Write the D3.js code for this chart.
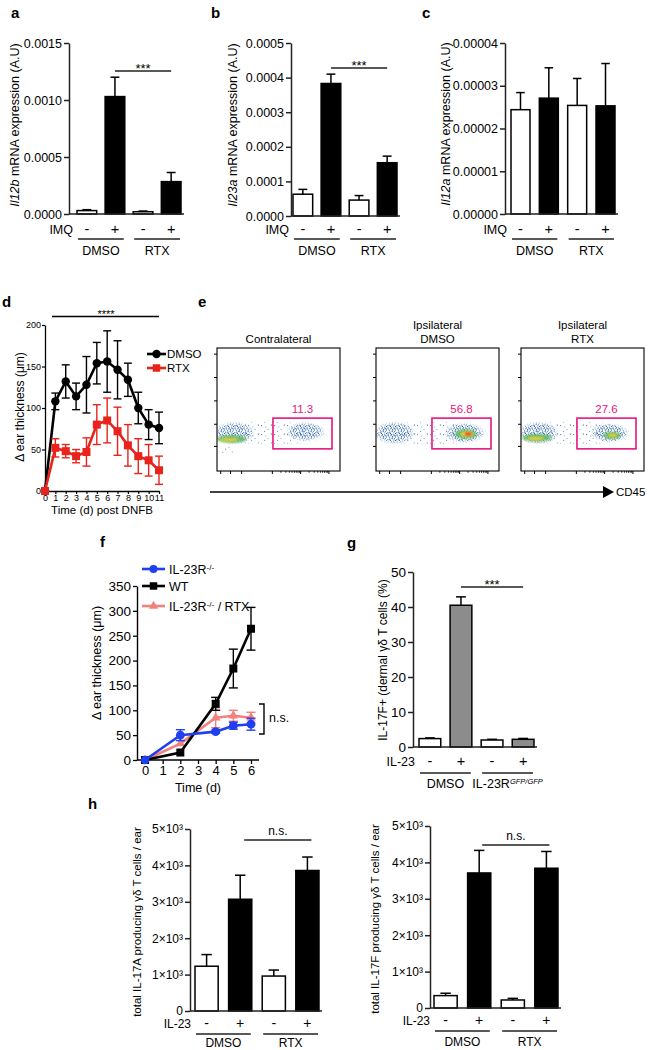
<!DOCTYPE html>
<html><head><meta charset="utf-8">
<script src="https://cdn.jsdelivr.net/npm/d3@7"></script>
<style>body{margin:0;background:#fff}svg{display:block}</style>
</head><body><script>
// ---------------- data ----------------
const signRow = ["-", "+", "-", "+"];
const treatGroups = ["DMSO", "RTX"];

const il12bMean = [0.00003, 0.00103, 0.00002, 0.000284];
const il12bErr  = [0.000008, 0.00017, 0.000006, 0.00008];
const il12bTicks = [0, 0.0005, 0.001, 0.0015];

const il23aMean = [0.000063, 0.000383, 0.000046, 0.000154];
const il23aErr  = [0.000014, 0.000027, 0.000013, 0.000019];
const il23aTicks = [0, 0.0001, 0.0002, 0.0003, 0.0004, 0.0005];

const il12aMean = [0.0000244, 0.0000271, 0.0000254, 0.0000253];
const il12aErr  = [0.0000040, 0.0000071, 0.0000063, 0.0000099];
const il12aTicks = [0, 0.00001, 0.00002, 0.00003, 0.00004];

const dDays = [0,1,2,3,4,5,6,7,8,9,10,11];
const dmsoMean = [0,108,132,114,128,154,156,146,134,100,80,76];
const dmsoErr  = [0,10,20,16,34,25,37,35,20,19,18,19];
const rtxMean  = [0,52,48,42,47,80,85,72,55,42,37,25];
const rtxErr   = [0,11,8,8,17,24,27,29,25,21,19,17];
const dTicksY = [0,50,100,150,200];

const flowTitles = [["Contralateral"], ["Ipsilateral", "DMSO"], ["Ipsilateral", "RTX"]];
const flowGatePct = ["11.3", "56.8", "27.6"];
const flowGate = [0.455, 0.935, 0.18, 0.43]; // xmin,xmax,ymin,ymax (fraction of plot)
// clusters: [cx, cy, rx, ry, level]  level 0 sparse,1 dense,2 green,3 yellow,4 red
const flowClusters = [
  [[0.45,0.31,0.48,0.11,0],[0.14,0.31,0.17,0.095,1],[0.72,0.32,0.16,0.08,1],[0.08,0.17,0.07,0.035,0],[0.12,0.26,0.12,0.03,2],[0.10,0.255,0.075,0.014,3]],
  [[0.45,0.31,0.48,0.11,0],[0.15,0.31,0.17,0.095,1],[0.72,0.31,0.17,0.085,1],[0.73,0.30,0.09,0.038,2],[0.74,0.30,0.055,0.022,3],[0.75,0.30,0.028,0.012,4]],
  [[0.45,0.31,0.48,0.11,0],[0.14,0.31,0.17,0.095,1],[0.72,0.31,0.16,0.08,1],[0.13,0.27,0.12,0.03,2],[0.12,0.265,0.07,0.014,3],[0.74,0.29,0.07,0.03,2],[0.745,0.29,0.038,0.014,3]]
];
const flowLeftTicks = [0.20, 0.38, 0.57, 0.76, 0.95];
const flowMajorTicks = [0.03, 0.11, 0.2, 0.45, 0.68, 0.91];

const fDays = [0,2,4,5,6];
const wtMean = [0,15,113,184,264];
const wtErr  = [0,0,13,39,43];
const koMean = [0,50,57,69,72];
const koErr  = [0,11,3,7,12];
const koRtxMean = [0,33,85,89,85];
const koRtxErr  = [0,0,20,11,11];
const fTicksY = [0,50,100,150,200,250,300,350];
const fTicksX = [0,1,2,3,4,5,6];

const gMean = [2.4, 40.5, 2.0, 2.2];
const gErr  = [0.2, 2.4, 0.2, 0.25];
const gTicks = [0,10,20,30,40,50];

const h17aMean = [1230, 3070, 960, 3860];
const h17aErr  = [320, 660, 165, 370];
const h17fMean = [340, 3710, 220, 3840];
const h17fErr  = [65, 620, 45, 460];
const hTicks = [0,1000,2000,3000,4000,5000];

// ---------------- drawing ----------------
const FONT = "'Liberation Sans', Arial, Helvetica, sans-serif";
const svg = d3.select("body").append("svg").attr("width",650).attr("height",1050)
  .style("font-family", FONT);
const defs = svg.append("defs");

function rich(textSel, parts){
  parts.forEach(p=>{
    const t = textSel.append("tspan").text(p.t);
    if(p.it) t.attr("font-style","italic");
    if(p.sup) t.attr("baseline-shift","super").attr("font-size", p.size || "65%");
  });
  return textSel;
}
function panelLetter(l,x,y){
  svg.append("text").attr("x",x).attr("y",y).attr("font-size",15).attr("font-weight","bold").text(l);
}

function barPanel(c){
  const g = svg.append("g");
  const n = c.mean.length;
  const x = d3.scaleBand().domain(d3.range(n)).range(c.barRange).paddingInner(c.pad).paddingOuter(0);
  const y = d3.scaleLinear().domain(c.domain).range(c.yRange);
  const bw = x.bandwidth();
  const capW = bw*0.45;
  g.selectAll("rect").data(c.mean).join("rect")
    .attr("x",(d,i)=>x(i)).attr("y",d=>y(d)).attr("width",bw).attr("height",d=>y(0)-y(d))
    .attr("fill",(d,i)=>c.fills[i]).attr("stroke","#000").attr("stroke-width",1.5);
  const eg = g.append("g").attr("stroke","#000").attr("stroke-width",1.5);
  eg.selectAll("line.v").data(c.mean).join("line").attr("class","v")
    .attr("x1",(d,i)=>x(i)+bw/2).attr("x2",(d,i)=>x(i)+bw/2)
    .attr("y1",d=>y(d)).attr("y2",(d,i)=>y(d+c.err[i]));
  eg.selectAll("line.c").data(c.mean).join("line").attr("class","c")
    .attr("x1",(d,i)=>x(i)+bw/2-capW/2).attr("x2",(d,i)=>x(i)+bw/2+capW/2)
    .attr("y1",(d,i)=>y(d+c.err[i])).attr("y2",(d,i)=>y(d+c.err[i]));
  const axis = d3.axisLeft(y).tickValues(c.ticks).tickFormat(c.fmt).tickSize(5).tickSizeOuter(0).tickPadding(2);
  const ag = g.append("g").attr("transform",`translate(${c.axisX},0)`).call(axis)
    .attr("font-family",FONT).attr("font-size",c.tickFont);
  ag.select(".domain").attr("stroke-width",1.5).attr("stroke","#222");
  ag.selectAll(".tick line").attr("stroke-width",1.5).attr("stroke","#222");
  ag.selectAll(".tick text").attr("fill","#000");
  g.append("line").attr("x1",c.axisX).attr("x2",c.barRange[1]+3).attr("y1",y(0)).attr("y2",y(0))
    .attr("stroke","#222").attr("stroke-width",1.5);
  g.selectAll("text.sign").data(c.signs).join("text").attr("class","sign")
    .attr("x",(d,i)=>x(i)+bw/2).attr("y",c.rowY).attr("text-anchor","middle")
    .attr("font-size",c.labelFont+2).text(d=>d);
  g.append("text").attr("x",c.barRange[0]-4).attr("y",c.rowY).attr("text-anchor","end")
    .attr("font-size",c.labelFont).text(c.rowLabel);
  c.groups.forEach((gr,k)=>{
    const x0 = x(2*k)+1, x1 = x(2*k+1)+bw-1;
    g.append("line").attr("x1",x0).attr("x2",x1).attr("y1",c.lineY).attr("y2",c.lineY)
      .attr("stroke","#222").attr("stroke-width",1.3);
    rich(g.append("text").attr("x",(x0+x1)/2).attr("y",c.groupY).attr("text-anchor","middle")
      .attr("font-size",c.labelFont), gr);
  });
  if(c.sig){
    const sx0 = x(c.sig.from)+bw/2+c.sig.dx, sx1 = x(c.sig.to)+bw/2+c.sig.dx;
    g.append("line").attr("x1",sx0).attr("x2",sx1).attr("y1",c.sig.y).attr("y2",c.sig.y)
      .attr("stroke","#222").attr("stroke-width",1.3);
    g.append("text").attr("x",(sx0+sx1)/2).attr("y",c.sig.ty).attr("text-anchor","middle")
      .attr("font-size",c.sig.size).text(c.sig.text);
  }
  rich(g.append("text").attr("transform",`translate(${c.yLabelX},${c.yLabelY}) rotate(-90)`)
    .attr("text-anchor","middle").attr("dy","0.35em").attr("font-size",c.yLabelFont), c.yLabel);
}

const wb = ["#fff","#000","#fff","#000"];
// ---- a ----
panelLetter("a",11,18);
barPanel({mean:il12bMean, err:il12bErr, barRange:[77,181], pad:0.3, domain:[0,0.0015], yRange:[214,43],
  ticks:il12bTicks, fmt:d3.format(".4f"), tickFont:12.5, fills:wb, axisX:69,
  signs:signRow, rowLabel:"IMQ", rowY:234, lineY:239, groupY:255, labelFont:12.5,
  groups:treatGroups.map(t=>[{t}]),
  sig:{from:1,to:3,dx:0,y:71,ty:73,text:"***",size:13},
  yLabel:[{t:"Il12b",it:true},{t:" mRNA expression (A.U)"}], yLabelX:15, yLabelY:125, yLabelFont:12.5});
// ---- b ----
panelLetter("b",211,18);
barPanel({mean:il23aMean, err:il23aErr, barRange:[293,397], pad:0.3, domain:[0,0.0005], yRange:[216,43],
  ticks:il23aTicks, fmt:d3.format(".4f"), tickFont:12.5, fills:wb, axisX:291,
  signs:signRow, rowLabel:"IMQ", rowY:234, lineY:239, groupY:255, labelFont:12.5,
  groups:treatGroups.map(t=>[{t}]),
  sig:{from:1,to:3,dx:0,y:68,ty:70,text:"***",size:13},
  yLabel:[{t:"Il23a",it:true},{t:" mRNA expression (A.U)"}], yLabelX:233, yLabelY:125, yLabelFont:12.5});
// ---- c ----
panelLetter("c",422,18);
barPanel({mean:il12aMean, err:il12aErr, barRange:[511,615], pad:0.33, domain:[0,0.00004], yRange:[214,43],
  ticks:il12aTicks, fmt:d3.format(".5f"), tickFont:12.5, fills:wb, axisX:505,
  signs:signRow, rowLabel:"IMQ", rowY:234, lineY:239, groupY:255, labelFont:12.5,
  groups:treatGroups.map(t=>[{t}]),
  yLabel:[{t:"Il12a",it:true},{t:" mRNA expression (A.U)"}], yLabelX:446, yLabelY:124, yLabelFont:12.5});

// ---- d ----
panelLetter("d",2,307);
(function(){
  const g = svg.append("g");
  const x = d3.scaleLinear().domain([0,11]).range([45,159]);
  const y = d3.scaleLinear().domain([0,200]).range([491,325]);
  const ya = g.append("g").attr("transform","translate(45,0)")
    .call(d3.axisLeft(y).tickValues(dTicksY).tickSize(3).tickSizeOuter(0).tickPadding(1))
    .attr("font-family",FONT).attr("font-size",9);
  const xa = g.append("g").attr("transform","translate(0,491)")
    .call(d3.axisBottom(x).tickValues(dDays).tickFormat(d3.format("d")).tickSize(3).tickSizeOuter(0).tickPadding(1))
    .attr("font-family",FONT).attr("font-size",9);
  [ya,xa].forEach(a=>{a.select(".domain").attr("stroke-width",1.3);a.selectAll(".tick line").attr("stroke-width",1.2);a.selectAll("text").attr("fill","#000");});
  function series(mean, err, color, shape){
    const sg = g.append("g");
    sg.selectAll("line.e").data(mean).join("line").attr("class","e")
      .attr("x1",(d,i)=>x(dDays[i])).attr("x2",(d,i)=>x(dDays[i]))
      .attr("y1",(d,i)=>y(d-err[i])).attr("y2",(d,i)=>y(d+err[i])).attr("stroke",color).attr("stroke-width",1.4);
    [1,-1].forEach(s=>{
      sg.selectAll("line.c"+(s>0?"p":"m")).data(mean).join("line").attr("class","c"+(s>0?"p":"m"))
        .attr("x1",(d,i)=>x(dDays[i])-4).attr("x2",(d,i)=>x(dDays[i])+4)
        .attr("y1",(d,i)=>y(d+s*err[i])).attr("y2",(d,i)=>y(d+s*err[i]))
        .attr("stroke",color).attr("stroke-width",1.4).attr("opacity",(d,i)=>err[i]?1:0);
    });
    sg.append("path").datum(mean).attr("fill","none").attr("stroke",color).attr("stroke-width",2.6)
      .attr("d",d3.line().x((d,i)=>x(dDays[i])).y(d=>y(d)));
    sg.selectAll("path.m").data(mean).join("path").attr("class","m")
      .attr("transform",(d,i)=>`translate(${x(dDays[i])},${y(d)})`)
      .attr("d",d3.symbol(shape, shape===d3.symbolCircle?56:64)).attr("fill",color);
  }
  series(dmsoMean, dmsoErr, "#000", d3.symbolCircle);
  series(rtxMean, rtxErr, "#e8231c", d3.symbolSquare);
  g.append("line").attr("x1",52).attr("x2",159).attr("y1",316.5).attr("y2",316.5).attr("stroke","#000").attr("stroke-width",1.5);
  g.append("text").attr("x",106).attr("y",318).attr("text-anchor","middle").attr("font-size",11).text("****");
  [["DMSO","#000",d3.symbolCircle,354],["RTX","#e8231c",d3.symbolSquare,368]].forEach(([t,c,s,ly])=>{
    g.append("line").attr("x1",147).attr("x2",166).attr("y1",ly).attr("y2",ly).attr("stroke",c).attr("stroke-width",2.6);
    g.append("path").attr("transform",`translate(156.5,${ly})`).attr("d",d3.symbol(s,56)).attr("fill",c);
    g.append("text").attr("x",167).attr("y",ly+4).attr("font-size",11.5).text(t);
  });
  g.append("text").attr("x",102).attr("y",514).attr("text-anchor","middle").attr("font-size",11.5).text("Time (d) post DNFB");
  g.append("text").attr("transform","translate(20,407) rotate(-90)").attr("text-anchor","middle").attr("dy","0.35em")
    .attr("font-size",12).text("Δ ear thickness (μm)");
})();

// ---- e ----
panelLetter("e",198,307);
(function(){
  const ps = defs.append("pattern").attr("id","dotsSparse").attr("patternUnits","userSpaceOnUse").attr("width",13).attr("height",9);
  [[1,2,"#5d88c0"],[7.5,6,"#8fb0d8"],[10.8,1.5,"#3d6aa8"],[4,7.8,"#6f98c8"],[5.2,3.4,"#9ab8dc"]]
    .forEach(([cx,cy,c])=>ps.append("rect").attr("x",cx).attr("y",cy).attr("width",1.1).attr("height",1.1).attr("fill",c));
  const pd = defs.append("pattern").attr("id","dotsDense").attr("patternUnits","userSpaceOnUse").attr("width",9).attr("height",7);
  [[0.5,0.5,"#24508f"],[3.2,1.1,"#5f8fc8"],[6.1,0.3,"#3f78b8"],[7.8,2.4,"#3c76b4"],[1.9,3.0,"#6fa2c0"],
   [4.6,3.6,"#2a5898"],[0.2,5.1,"#4a82c0"],[2.8,5.9,"#31649f"],[5.7,5.3,"#7aa9d4"],[8.1,6.0,"#24508f"],
   [6.9,4.1,"#5a96b0"],[3.9,0.2,"#3a72b5"],[1.2,1.9,"#8fb6dc"],[5.0,2.2,"#2d60a4"],[7.2,1.0,"#4b7fbc"],[2.2,4.6,"#3a6cae"]]
    .forEach(([cx,cy,c])=>pd.append("rect").attr("x",cx).attr("y",cy).attr("width",1.2).attr("height",1.2).attr("fill",c));
  const rg = defs.append("radialGradient").attr("id","softG");
  rg.append("stop").attr("offset","0%").attr("stop-color","#fff");
  rg.append("stop").attr("offset","65%").attr("stop-color","#fff");
  rg.append("stop").attr("offset","100%").attr("stop-color","#000");
  const mk = defs.append("mask").attr("id","softMask").attr("maskContentUnits","objectBoundingBox");
  mk.append("rect").attr("width",1).attr("height",1).attr("fill","url(#softG)");
  defs.append("filter").attr("id","blur1").attr("x","-50%").attr("y","-50%").attr("width","200%").attr("height","200%")
    .append("feGaussianBlur").attr("stdDeviation",1.2);
  const levelFill = ["url(#dotsSparse)","url(#dotsDense)","#5cb85c","#f3cf3a","#e8331d"];
  const lefts = [217,376,521], top = 348, W = 123, H = 123;
  flowTitles.forEach((tl,k)=>{
    const g = svg.append("g");
    const x = d3.scaleLinear().domain([0,1]).range([lefts[k],lefts[k]+W]);
    const y = d3.scaleLinear().domain([0,1]).range([top+H,top]);
    const cp = defs.append("clipPath").attr("id","clipF"+k);
    cp.append("rect").attr("x",x(0)).attr("y",y(1)).attr("width",W).attr("height",H);
    const cg = g.append("g").attr("clip-path",`url(#clipF${k})`);
    flowClusters[k].forEach(([cx,cy,rx,ry,lv])=>{
      const e = cg.append("ellipse").attr("cx",x(cx)).attr("cy",y(cy))
        .attr("rx",x(rx)-x(0)).attr("ry",y(0)-y(ry)).attr("fill",levelFill[lv]);
      if(lv<2) e.attr("mask","url(#softMask)");
      else e.attr("filter","url(#blur1)").attr("opacity",lv===2?0.85:0.95);
    });
    g.append("rect").attr("x",x(0)).attr("y",y(1)).attr("width",W).attr("height",H)
      .attr("fill","none").attr("stroke","#000").attr("stroke-width",1.1);
    g.selectAll("line.lt").data(flowLeftTicks).join("line").attr("class","lt")
      .attr("x1",x(0)-3).attr("x2",x(0)).attr("y1",d=>y(d)).attr("y2",d=>y(d)).attr("stroke","#000");
    const minors = [];
    for(let i=3;i<flowMajorTicks.length-1;i++){
      const a=flowMajorTicks[i], b=flowMajorTicks[i+1];
      for(let m=2;m<10;m++) minors.push(a+(b-a)*Math.log10(m));
    }
    g.selectAll("line.bt").data(flowMajorTicks).join("line").attr("class","bt")
      .attr("x1",d=>x(d)).attr("x2",d=>x(d)).attr("y1",y(0)).attr("y2",y(0)+3).attr("stroke","#000");
    g.selectAll("line.bm").data(minors).join("line").attr("class","bm")
      .attr("x1",d=>x(d)).attr("x2",d=>x(d)).attr("y1",y(0)).attr("y2",y(0)+1.8).attr("stroke","#000").attr("stroke-width",0.8);
    g.append("rect").attr("x",x(flowGate[0])).attr("y",y(flowGate[3]))
      .attr("width",x(flowGate[1])-x(flowGate[0])).attr("height",y(flowGate[2])-y(flowGate[3]))
      .attr("fill","none").attr("stroke","#e5177e").attr("stroke-width",1.6);
    g.append("text").attr("x",(x(flowGate[0])+x(flowGate[1]))/2).attr("y",y(flowGate[3])-5)
      .attr("text-anchor","middle").attr("font-size",11.5).attr("fill","#e5177e").text(flowGatePct[k]);
    tl.forEach((t,j)=>{
      g.append("text").attr("x",x(0.5)).attr("y",343-(tl.length-1-j)*14).attr("text-anchor","middle")
        .attr("font-size",11.5).text(t);
    });
  });
  svg.append("line").attr("x1",210).attr("x2",604).attr("y1",492).attr("y2",492).attr("stroke","#000").attr("stroke-width",1.5);
  svg.append("path").attr("d","M603,486 L614,492 L603,498 Z").attr("fill","#000");
  svg.append("text").attr("x",616).attr("y",496).attr("font-size",11.5).text("CD45");
})();

// ---- f ----
panelLetter("f",100,547);
(function(){
  const g = svg.append("g");
  const x = d3.scaleLinear().domain([0,6]).range([145,251]);
  const y = d3.scaleLinear().domain([0,350]).range([760,586]);
  const ya = g.append("g").attr("transform","translate(137,0)")
    .call(d3.axisLeft(y).tickValues(fTicksY).tickFormat(d3.format("d")).tickSize(4).tickSizeOuter(0).tickPadding(2))
    .attr("font-family",FONT).attr("font-size",13.5);
  const xa = g.append("g").attr("transform","translate(0,760)")
    .call(d3.axisBottom(x).tickValues(fTicksX).tickFormat(d3.format("d")).tickSize(4).tickSizeOuter(0).tickPadding(2))
    .attr("font-family",FONT).attr("font-size",13);
  xa.select(".domain").attr("d","M137,0H259");
  [ya,xa].forEach(a=>{a.select(".domain").attr("stroke-width",1.4);a.selectAll(".tick line").attr("stroke-width",1.3);a.selectAll("text").attr("fill","#000");});
  function series(mean, err, color, shape, size){
    const sg = g.append("g");
    sg.selectAll("line.e").data(mean).join("line").attr("class","e")
      .attr("x1",(d,i)=>x(fDays[i])).attr("x2",(d,i)=>x(fDays[i]))
      .attr("y1",(d,i)=>y(d-err[i])).attr("y2",(d,i)=>y(d+err[i])).attr("stroke",color).attr("stroke-width",1.4);
    [1,-1].forEach(s=>{
      sg.selectAll("line.c"+(s>0?"p":"m")).data(mean).join("line").attr("class","c"+(s>0?"p":"m"))
        .attr("x1",(d,i)=>x(fDays[i])-4.5).attr("x2",(d,i)=>x(fDays[i])+4.5)
        .attr("y1",(d,i)=>y(d+s*err[i])).attr("y2",(d,i)=>y(d+s*err[i]))
        .attr("stroke",color).attr("stroke-width",1.4).attr("opacity",(d,i)=>err[i]>2?1:0);
    });
    sg.append("path").datum(mean).attr("fill","none").attr("stroke",color).attr("stroke-width",2.6)
      .attr("d",d3.line().x((d,i)=>x(fDays[i])).y(d=>y(d)));
    sg.selectAll("path.m").data(mean).join("path").attr("class","m")
      .attr("transform",(d,i)=>`translate(${x(fDays[i])},${y(d)})`)
      .attr("d",d3.symbol(shape,size)).attr("fill",color);
  }
  series(koRtxMean, koRtxErr, "#f2807c", d3.symbolTriangle, 40);
  series(wtMean, wtErr, "#000", d3.symbolSquare, 64);
  series(koMean, koErr, "#1f3ff0", d3.symbolCircle, 60);
  g.append("path").attr("d","M259,704H264V734H259").attr("fill","none").attr("stroke","#000").attr("stroke-width",1.4);
  g.append("text").attr("x",269).attr("y",722).attr("font-size",12.5).text("n.s.");
  const leg = [
    {parts:[{t:"IL-23R"},{t:"-/-",sup:true}], c:"#1f3ff0", s:d3.symbolCircle, sz:50, ly:569},
    {parts:[{t:"WT"}], c:"#000", s:d3.symbolSquare, sz:56, ly:586},
    {parts:[{t:"IL-23R"},{t:"-/-",sup:true},{t:" / RTX"}], c:"#f2807c", s:d3.symbolTriangle, sz:36, ly:606}
  ];
  leg.forEach(l=>{
    g.append("line").attr("x1",142).attr("x2",165).attr("y1",l.ly).attr("y2",l.ly).attr("stroke",l.c).attr("stroke-width",2.6);
    g.append("path").attr("transform",`translate(153.5,${l.ly})`).attr("d",d3.symbol(l.s,l.sz)).attr("fill",l.c);
    rich(g.append("text").attr("x",169).attr("y",l.ly+4.5).attr("font-size",12.5), l.parts);
  });
  g.append("text").attr("x",198).attr("y",792).attr("text-anchor","middle").attr("font-size",12.5).text("Time (d)");
  g.append("text").attr("transform","translate(97,663) rotate(-90)").attr("text-anchor","middle").attr("dy","0.35em")
    .attr("font-size",12.5).text("Δ ear thickness (μm)");
})();

// ---- g ----
panelLetter("g",347,548);
barPanel({mean:gMean, err:gErr, barRange:[419,534], pad:0.3, domain:[0,50], yRange:[747,572],
  ticks:gTicks, fmt:d3.format("d"), tickFont:13.5, fills:["#fff","#8c8c8c","#fff","#8c8c8c"], axisX:413,
  signs:signRow, rowLabel:"IL-23", rowY:766, lineY:773, groupY:788, labelFont:12.5,
  groups:[[{t:"DMSO"}],[{t:"IL-23R"},{t:"GFP/GFP",sup:true,it:true,size:"60%"}]],
  sig:{from:1,to:3,dx:0,y:587,ty:589,text:"***",size:13},
  yLabel:[{t:"IL-17F+ (dermal γδ T cells (%)"}], yLabelX:383, yLabelY:660, yLabelFont:12});

// ---- h ----
panelLetter("h",88,809);
const hFmt = d=> d===0 ? "0" : `${d/1000}×10³`;
barPanel({mean:h17aMean, err:h17aErr, barRange:[195,319], pad:0.31, domain:[0,5000], yRange:[1011,829],
  ticks:hTicks, fmt:hFmt, tickFont:12, fills:wb, axisX:190,
  signs:signRow, rowLabel:"IL-23", rowY:1028, lineY:1034, groupY:1047, labelFont:12,
  groups:treatGroups.map(t=>[{t}]),
  sig:{from:1,to:3,dx:4,y:840,ty:835,text:"n.s.",size:12},
  yLabel:[{t:"total IL-17A producing γδ T cells / ear"}], yLabelX:137, yLabelY:922, yLabelFont:11.5});
barPanel({mean:h17fMean, err:h17fErr, barRange:[434,558], pad:0.31, domain:[0,5000], yRange:[1008,826],
  ticks:hTicks, fmt:hFmt, tickFont:12, fills:wb, axisX:430,
  signs:signRow, rowLabel:"IL-23", rowY:1025, lineY:1031, groupY:1046, labelFont:12,
  groups:treatGroups.map(t=>[{t}]),
  sig:{from:1,to:3,dx:3,y:845,ty:840,text:"n.s.",size:12},
  yLabel:[{t:"total IL-17F producing γδ T cells / ear"}], yLabelX:375, yLabelY:919, yLabelFont:11.5});
</script></body></html>
